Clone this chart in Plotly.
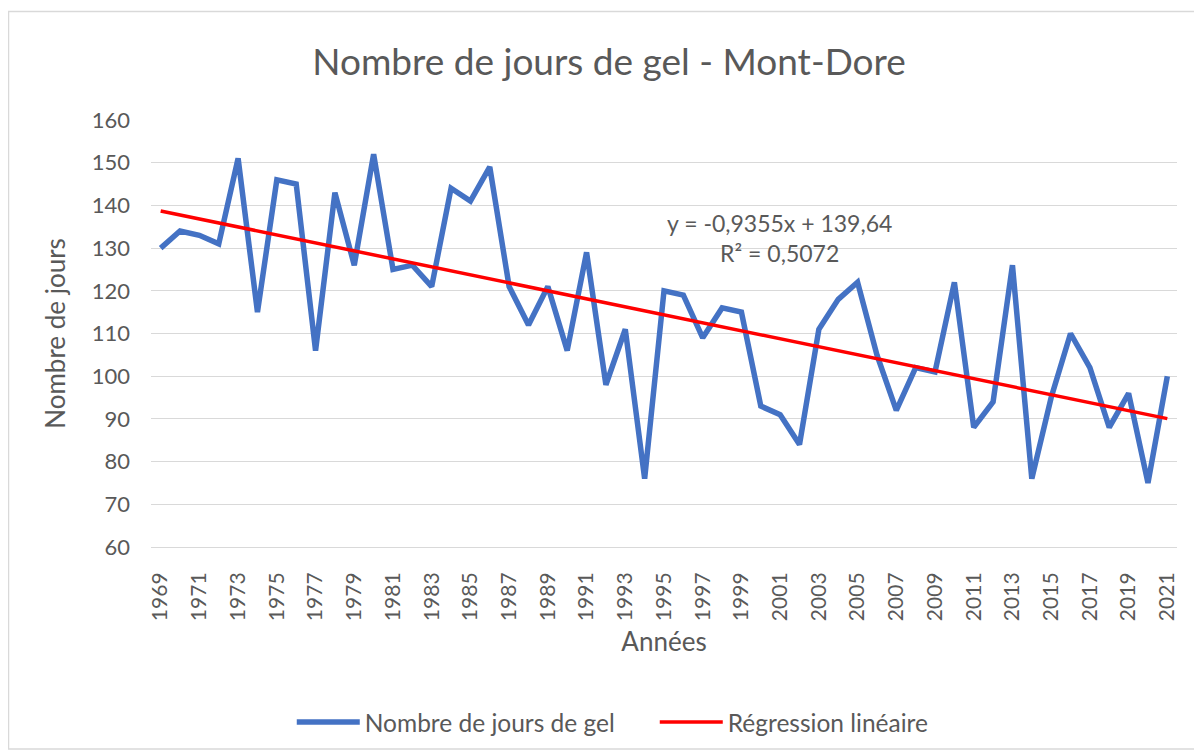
import plotly.graph_objects as go

years = list(range(1969, 2022))
jours_gel = [130, 134, 133, 131, 151, 115, 146, 145, 106, 143,
             126, 152, 125, 126, 121, 144, 141, 149, 121, 112,
             121, 106, 129, 98, 111, 76, 120, 119, 109, 116,
             115, 93, 91, 84, 111, 118, 122, 105, 92, 102,
             101, 122, 88, 94, 126, 76, 95, 110, 102, 88,
             96, 75, 100]
slope = -0.9355
intercept = 139.64
r2 = 0.5072
y_ticks = list(range(60, 161, 10))
x_ticks = list(range(1969, 2022, 2))

idx = list(range(1, len(years) + 1))
reg = [slope * i + intercept for i in idx]

FONT = "Lato"
GREY = "#595959"

fig = go.Figure()
fig.add_trace(go.Scatter(x=years, y=jours_gel, mode="lines",
                         name="Nombre de jours de gel",
                         line=dict(color="#4472C4", width=5.5)))
fig.add_trace(go.Scatter(x=years, y=reg, mode="lines",
                         name="Régression linéaire",
                         line=dict(color="#FF0000", width=3.5)))

eq = "y = " + f"{slope:.4f}".replace(".", ",") + "x + " + f"{intercept:.2f}".replace(".", ",")
eq += "<br>R² = " + f"{r2:.4f}".replace(".", ",")

fig.add_annotation(text=eq, xref="paper", yref="paper", x=0.613, y=0.7226,
                   xanchor="center", yanchor="middle", showarrow=False,
                   align="center", font=dict(family=FONT, size=23, color=GREY))

fig.add_shape(type="rect", xref="paper", yref="paper",
              x0=-0.1389, x1=1.0214, y0=-0.473, y1=1.254,
              line=dict(color="#D9D9D9", width=1.5), layer="below")

fig.update_layout(
    width=1194, height=748,
    margin=dict(l=143, r=25, t=112, b=207),
    paper_bgcolor="white", plot_bgcolor="white",
    font=dict(family=FONT, color=GREY),
    title=dict(text="Nombre de jours de gel - Mont-Dore", xref="paper", x=0.4464, xanchor="center",
               yref="container", y=0.9278, yanchor="middle",
               font=dict(family=FONT, size=37, color=GREY)),
    xaxis=dict(range=[1968.5, 2021.5], tickvals=x_ticks, ticktext=[str(v) for v in x_ticks],
               tickangle=-90, showgrid=False, zeroline=False, showline=True,
               linecolor="#D9D9D9", linewidth=1, ticks="", ticklabelstandoff=16,
               tickfont=dict(family=FONT, size=21, color=GREY),
               title=dict(text="Années", font=dict(family=FONT, size=26, color=GREY), standoff=12)),
    yaxis=dict(range=[60, 160], tickvals=y_ticks, showgrid=True, gridcolor="#D9D9D9",
               gridwidth=1, zeroline=False, showline=False, ticks="",
               ticklabelstandoff=20,
               tickfont=dict(family=FONT, size=22, color=GREY),
               title=dict(text="Nombre de jours", font=dict(family=FONT, size=26, color=GREY), standoff=18)),
    legend=dict(orientation="h", x=0.491, xanchor="center", y=-0.41, yanchor="middle",
                font=dict(family=FONT, size=24.5, color=GREY), itemwidth=63,
                entrywidth=285, entrywidthmode="pixels"),
    showlegend=True,
)

fig.write_html("out.html")
